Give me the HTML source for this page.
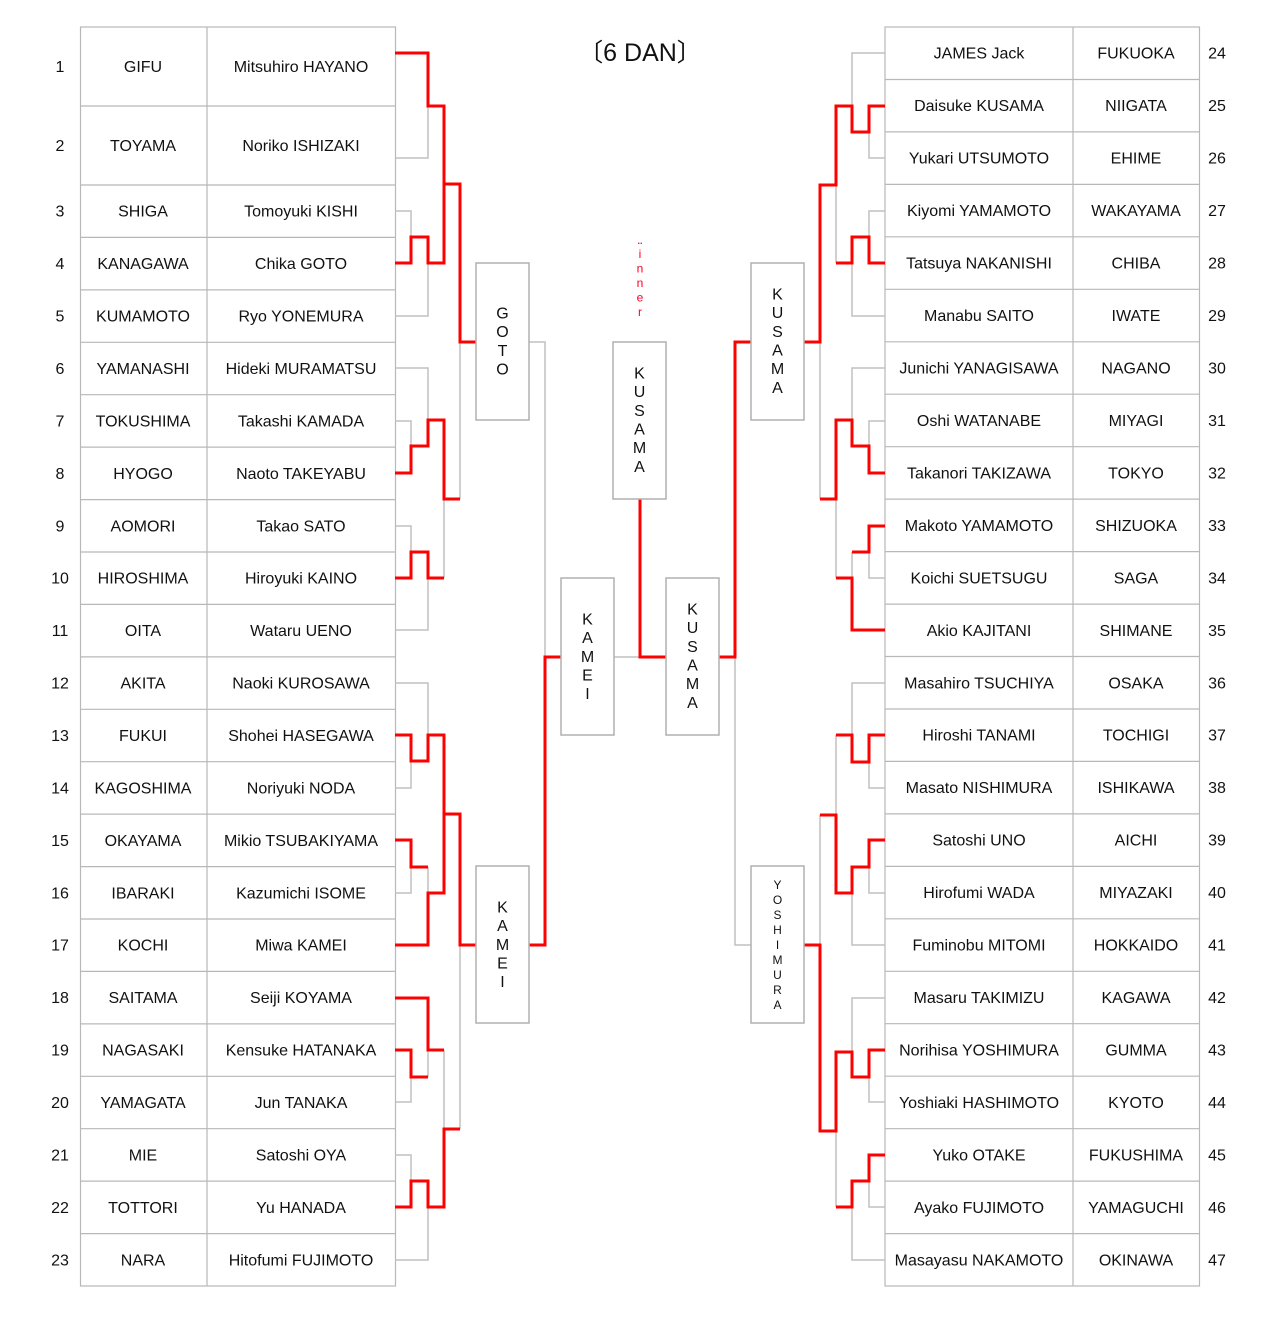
<!DOCTYPE html>
<html><head><meta charset="utf-8"><style>
html,body{margin:0;padding:0;background:#fff;}
svg{display:block;}
text{font-family:"Liberation Sans",Arial,sans-serif;font-size:16px;fill:#111;}
.g{fill:none;stroke:#c0c0c0;stroke-width:1.5;}
.r{fill:none;stroke:#ff0000;stroke-width:3;}
.b{fill:#fff;stroke:#b0b0b0;stroke-width:1.5;}
.c{text-anchor:middle;dominant-baseline:central;}
</style></head><body>
<svg width="1280" height="1320" viewBox="0 0 1280 1320" xmlns="http://www.w3.org/2000/svg">
<g class="g" style="stroke:#b8b8b8;stroke-width:1.2">
<rect x="80.5" y="27" width="315" height="1259"/>
<line x1="207" y1="27" x2="207" y2="1286"/>
<path d="M80 106H395M80 185H395M80 237.4H395M80 289.9H395M80 342.3H395M80 394.7H395M80 447.1H395M80 499.6H395M80 552H395M80 604.4H395M80 656.9H395M80 709.3H395M80 761.7H395M80 814.1H395M80 866.6H395M80 919H395M80 971.4H395M80 1023.9H395M80 1076.3H395M80 1128.7H395M80 1181.1H395M80 1233.6H395"/>
<rect x="885" y="27" width="314.5" height="1259"/>
<line x1="1073" y1="27" x2="1073" y2="1286"/>
<path d="M885 79.5H1199M885 131.9H1199M885 184.4H1199M885 236.8H1199M885 289.3H1199M885 341.8H1199M885 394.2H1199M885 446.7H1199M885 499.1H1199M885 551.6H1199M885 604.1H1199M885 656.5H1199M885 709H1199M885 761.4H1199M885 813.9H1199M885 866.4H1199M885 918.8H1199M885 971.3H1199M885 1023.7H1199M885 1076.2H1199M885 1128.7H1199M885 1181.1H1199M885 1233.6H1199"/>
</g>
<g class="g">
<path d="M395 158H428V106M444 106V184M395 211H411V237M395 316H428V263M395 368H428V420M395 421H411V446M444 499V578M395 526H411V552M395 630H428V578M460 499V342M529 342H545V657M395 683H428V735M395 788H411V761M444 735V814M395 893H411V867M428 867V893M460 945V1129M395 1102H411V1077M428 1050V1077M444 1050V1129M395 1155H411V1181M395 1260H428V1207M614 657H640"/>
<path d="M885 53H852V106M885 158H869V132M885 211H869V237M885 316H852V263M836 185V263M820 342V499M885 368H852V420M885 421H869V446M836 499V578M885 578H869V552M852 552V578M735 657V945H751M885 683H852V735M885 788H869V762M836 735V815M820 815V945M885 893H869V867M885 945H852V867M885 998H852V1052M885 1102H869V1077M885 1207H869V1181M885 1260H852V1207M836 1131V1207"/>
</g>
<g class="r">
<path d="M395 53H428V106H444V184H460V342H476"/>
<path d="M395 263H411V237H428V263H444V184"/>
<path d="M395 473H411V446H428V420H444V499H460"/>
<path d="M395 578H411V552H428V578H444"/>
<path d="M395 735H411V761H428V735H444V814H460V945H476"/>
<path d="M395 840H411V867H428"/>
<path d="M395 945H428V893H444V814"/>
<path d="M529 945H545V657H561"/>
<path d="M395 998H428V1050H444"/>
<path d="M395 1050H411V1077H428"/>
<path d="M395 1207H411V1181H428V1207H444V1129H460"/>
<path d="M640 499V657H666"/>
<path d="M719 657H735V342H751"/>
<path d="M885 106H869V132H852V106H836V185H820V342H804"/>
<path d="M885 263H869V237H852V263H836"/>
<path d="M885 473H869V446H852V420H836V499H820"/>
<path d="M885 526H869V552H852"/>
<path d="M885 630H852V578H836"/>
<path d="M885 735H869V762H852V735H836"/>
<path d="M885 840H869V867H852V893H836V815H820"/>
<path d="M804 945H820V1131H836V1052H852V1077H869V1050H885"/>
<path d="M885 1155H869V1181H852V1207H836"/>
</g>
<rect class="b" x="476" y="263" width="53" height="157"/>
<rect class="b" x="476" y="866" width="53" height="157"/>
<rect class="b" x="561" y="578" width="53" height="157"/>
<rect class="b" x="613" y="342" width="53" height="157"/>
<rect class="b" x="666" y="578" width="53" height="157"/>
<rect class="b" x="751" y="263" width="53" height="157"/>
<rect class="b" x="751" y="866" width="53" height="157"/>
<g transform="translate(0,1)">
<text x="502.5" y="313" class="c">G</text><text x="502.5" y="331.7" class="c">O</text><text x="502.5" y="350.4" class="c">T</text><text x="502.5" y="369" class="c">O</text>
<text x="502.5" y="907" class="c">K</text><text x="502.5" y="925.7" class="c">A</text><text x="502.5" y="944.4" class="c">M</text><text x="502.5" y="963" class="c">E</text><text x="502.5" y="981.7" class="c">I</text>
<text x="587.5" y="619" class="c">K</text><text x="587.5" y="637.7" class="c">A</text><text x="587.5" y="656.4" class="c">M</text><text x="587.5" y="675" class="c">E</text><text x="587.5" y="693.7" class="c">I</text>
<text x="639.5" y="373" class="c">K</text><text x="639.5" y="391.7" class="c">U</text><text x="639.5" y="410.4" class="c">S</text><text x="639.5" y="429" class="c">A</text><text x="639.5" y="447.7" class="c">M</text><text x="639.5" y="466.4" class="c">A</text>
<text x="692.5" y="609" class="c">K</text><text x="692.5" y="627.7" class="c">U</text><text x="692.5" y="646.4" class="c">S</text><text x="692.5" y="665" class="c">A</text><text x="692.5" y="683.7" class="c">M</text><text x="692.5" y="702.4" class="c">A</text>
<text x="777.5" y="294" class="c">K</text><text x="777.5" y="312.7" class="c">U</text><text x="777.5" y="331.4" class="c">S</text><text x="777.5" y="350" class="c">A</text><text x="777.5" y="368.7" class="c">M</text><text x="777.5" y="387.4" class="c">A</text>
<text x="777.5" y="884" class="c" style="font-size:12px">Y</text><text x="777.5" y="899" class="c" style="font-size:12px">O</text><text x="777.5" y="914" class="c" style="font-size:12px">S</text><text x="777.5" y="929" class="c" style="font-size:12px">H</text><text x="777.5" y="944" class="c" style="font-size:12px">I</text><text x="777.5" y="959" class="c" style="font-size:12px">M</text><text x="777.5" y="974" class="c" style="font-size:12px">U</text><text x="777.5" y="989" class="c" style="font-size:12px">R</text><text x="777.5" y="1004" class="c" style="font-size:12px">A</text>
<text x="640" y="240" class="c" style="font-size:9px;fill:#ff0022;font-weight:bold">..</text>
<text x="640" y="253" class="c" style="font-size:12px;fill:#ff0022">i</text>
<text x="640" y="267.5" class="c" style="font-size:12px;fill:#ff0022">n</text>
<text x="640" y="282" class="c" style="font-size:12px;fill:#ff0022">n</text>
<text x="640" y="296.5" class="c" style="font-size:12px;fill:#ff0022">e</text>
<text x="640" y="311" class="c" style="font-size:12px;fill:#ff0022">r</text>
<text x="640" y="52" class="c" style="font-size:25px">〔6 DAN〕</text>
<text x="60" y="66.5" class="c">1</text><text x="143" y="66.5" class="c">GIFU</text><text x="301" y="66.5" class="c">Mitsuhiro HAYANO</text>
<text x="60" y="145.5" class="c">2</text><text x="143" y="145.5" class="c">TOYAMA</text><text x="301" y="145.5" class="c">Noriko ISHIZAKI</text>
<text x="60" y="211.2" class="c">3</text><text x="143" y="211.2" class="c">SHIGA</text><text x="301" y="211.2" class="c">Tomoyuki KISHI</text>
<text x="60" y="263.6" class="c">4</text><text x="143" y="263.6" class="c">KANAGAWA</text><text x="301" y="263.6" class="c">Chika GOTO</text>
<text x="60" y="316.1" class="c">5</text><text x="143" y="316.1" class="c">KUMAMOTO</text><text x="301" y="316.1" class="c">Ryo YONEMURA</text>
<text x="60" y="368.5" class="c">6</text><text x="143" y="368.5" class="c">YAMANASHI</text><text x="301" y="368.5" class="c">Hideki MURAMATSU</text>
<text x="60" y="420.9" class="c">7</text><text x="143" y="420.9" class="c">TOKUSHIMA</text><text x="301" y="420.9" class="c">Takashi KAMADA</text>
<text x="60" y="473.4" class="c">8</text><text x="143" y="473.4" class="c">HYOGO</text><text x="301" y="473.4" class="c">Naoto TAKEYABU</text>
<text x="60" y="525.8" class="c">9</text><text x="143" y="525.8" class="c">AOMORI</text><text x="301" y="525.8" class="c">Takao SATO</text>
<text x="60" y="578.2" class="c">10</text><text x="143" y="578.2" class="c">HIROSHIMA</text><text x="301" y="578.2" class="c">Hiroyuki KAINO</text>
<text x="60" y="630.6" class="c">11</text><text x="143" y="630.6" class="c">OITA</text><text x="301" y="630.6" class="c">Wataru UENO</text>
<text x="60" y="683.1" class="c">12</text><text x="143" y="683.1" class="c">AKITA</text><text x="301" y="683.1" class="c">Naoki KUROSAWA</text>
<text x="60" y="735.5" class="c">13</text><text x="143" y="735.5" class="c">FUKUI</text><text x="301" y="735.5" class="c">Shohei HASEGAWA</text>
<text x="60" y="787.9" class="c">14</text><text x="143" y="787.9" class="c">KAGOSHIMA</text><text x="301" y="787.9" class="c">Noriyuki NODA</text>
<text x="60" y="840.4" class="c">15</text><text x="143" y="840.4" class="c">OKAYAMA</text><text x="301" y="840.4" class="c">Mikio TSUBAKIYAMA</text>
<text x="60" y="892.8" class="c">16</text><text x="143" y="892.8" class="c">IBARAKI</text><text x="301" y="892.8" class="c">Kazumichi ISOME</text>
<text x="60" y="945.2" class="c">17</text><text x="143" y="945.2" class="c">KOCHI</text><text x="301" y="945.2" class="c">Miwa KAMEI</text>
<text x="60" y="997.7" class="c">18</text><text x="143" y="997.7" class="c">SAITAMA</text><text x="301" y="997.7" class="c">Seiji KOYAMA</text>
<text x="60" y="1050.1" class="c">19</text><text x="143" y="1050.1" class="c">NAGASAKI</text><text x="301" y="1050.1" class="c">Kensuke HATANAKA</text>
<text x="60" y="1102.5" class="c">20</text><text x="143" y="1102.5" class="c">YAMAGATA</text><text x="301" y="1102.5" class="c">Jun TANAKA</text>
<text x="60" y="1154.9" class="c">21</text><text x="143" y="1154.9" class="c">MIE</text><text x="301" y="1154.9" class="c">Satoshi OYA</text>
<text x="60" y="1207.4" class="c">22</text><text x="143" y="1207.4" class="c">TOTTORI</text><text x="301" y="1207.4" class="c">Yu HANADA</text>
<text x="60" y="1259.8" class="c">23</text><text x="143" y="1259.8" class="c">NARA</text><text x="301" y="1259.8" class="c">Hitofumi FUJIMOTO</text>
<text x="979" y="53.2" class="c">JAMES Jack</text><text x="1136" y="53.2" class="c">FUKUOKA</text><text x="1217" y="53.2" class="c">24</text>
<text x="979" y="105.7" class="c">Daisuke KUSAMA</text><text x="1136" y="105.7" class="c">NIIGATA</text><text x="1217" y="105.7" class="c">25</text>
<text x="979" y="158.2" class="c">Yukari UTSUMOTO</text><text x="1136" y="158.2" class="c">EHIME</text><text x="1217" y="158.2" class="c">26</text>
<text x="979" y="210.6" class="c">Kiyomi YAMAMOTO</text><text x="1136" y="210.6" class="c">WAKAYAMA</text><text x="1217" y="210.6" class="c">27</text>
<text x="979" y="263.1" class="c">Tatsuya NAKANISHI</text><text x="1136" y="263.1" class="c">CHIBA</text><text x="1217" y="263.1" class="c">28</text>
<text x="979" y="315.5" class="c">Manabu SAITO</text><text x="1136" y="315.5" class="c">IWATE</text><text x="1217" y="315.5" class="c">29</text>
<text x="979" y="368" class="c">Junichi YANAGISAWA</text><text x="1136" y="368" class="c">NAGANO</text><text x="1217" y="368" class="c">30</text>
<text x="979" y="420.5" class="c">Oshi WATANABE</text><text x="1136" y="420.5" class="c">MIYAGI</text><text x="1217" y="420.5" class="c">31</text>
<text x="979" y="472.9" class="c">Takanori TAKIZAWA</text><text x="1136" y="472.9" class="c">TOKYO</text><text x="1217" y="472.9" class="c">32</text>
<text x="979" y="525.4" class="c">Makoto YAMAMOTO</text><text x="1136" y="525.4" class="c">SHIZUOKA</text><text x="1217" y="525.4" class="c">33</text>
<text x="979" y="577.8" class="c">Koichi SUETSUGU</text><text x="1136" y="577.8" class="c">SAGA</text><text x="1217" y="577.8" class="c">34</text>
<text x="979" y="630.3" class="c">Akio KAJITANI</text><text x="1136" y="630.3" class="c">SHIMANE</text><text x="1217" y="630.3" class="c">35</text>
<text x="979" y="682.8" class="c">Masahiro TSUCHIYA</text><text x="1136" y="682.8" class="c">OSAKA</text><text x="1217" y="682.8" class="c">36</text>
<text x="979" y="735.2" class="c">Hiroshi TANAMI</text><text x="1136" y="735.2" class="c">TOCHIGI</text><text x="1217" y="735.2" class="c">37</text>
<text x="979" y="787.7" class="c">Masato NISHIMURA</text><text x="1136" y="787.7" class="c">ISHIKAWA</text><text x="1217" y="787.7" class="c">38</text>
<text x="979" y="840.1" class="c">Satoshi UNO</text><text x="1136" y="840.1" class="c">AICHI</text><text x="1217" y="840.1" class="c">39</text>
<text x="979" y="892.6" class="c">Hirofumi WADA</text><text x="1136" y="892.6" class="c">MIYAZAKI</text><text x="1217" y="892.6" class="c">40</text>
<text x="979" y="945" class="c">Fuminobu MITOMI</text><text x="1136" y="945" class="c">HOKKAIDO</text><text x="1217" y="945" class="c">41</text>
<text x="979" y="997.5" class="c">Masaru TAKIMIZU</text><text x="1136" y="997.5" class="c">KAGAWA</text><text x="1217" y="997.5" class="c">42</text>
<text x="979" y="1050" class="c">Norihisa YOSHIMURA</text><text x="1136" y="1050" class="c">GUMMA</text><text x="1217" y="1050" class="c">43</text>
<text x="979" y="1102.4" class="c">Yoshiaki HASHIMOTO</text><text x="1136" y="1102.4" class="c">KYOTO</text><text x="1217" y="1102.4" class="c">44</text>
<text x="979" y="1154.9" class="c">Yuko OTAKE</text><text x="1136" y="1154.9" class="c">FUKUSHIMA</text><text x="1217" y="1154.9" class="c">45</text>
<text x="979" y="1207.3" class="c">Ayako FUJIMOTO</text><text x="1136" y="1207.3" class="c">YAMAGUCHI</text><text x="1217" y="1207.3" class="c">46</text>
<text x="979" y="1259.8" class="c">Masayasu NAKAMOTO</text><text x="1136" y="1259.8" class="c">OKINAWA</text><text x="1217" y="1259.8" class="c">47</text>
</g>
</svg>
</body></html>
